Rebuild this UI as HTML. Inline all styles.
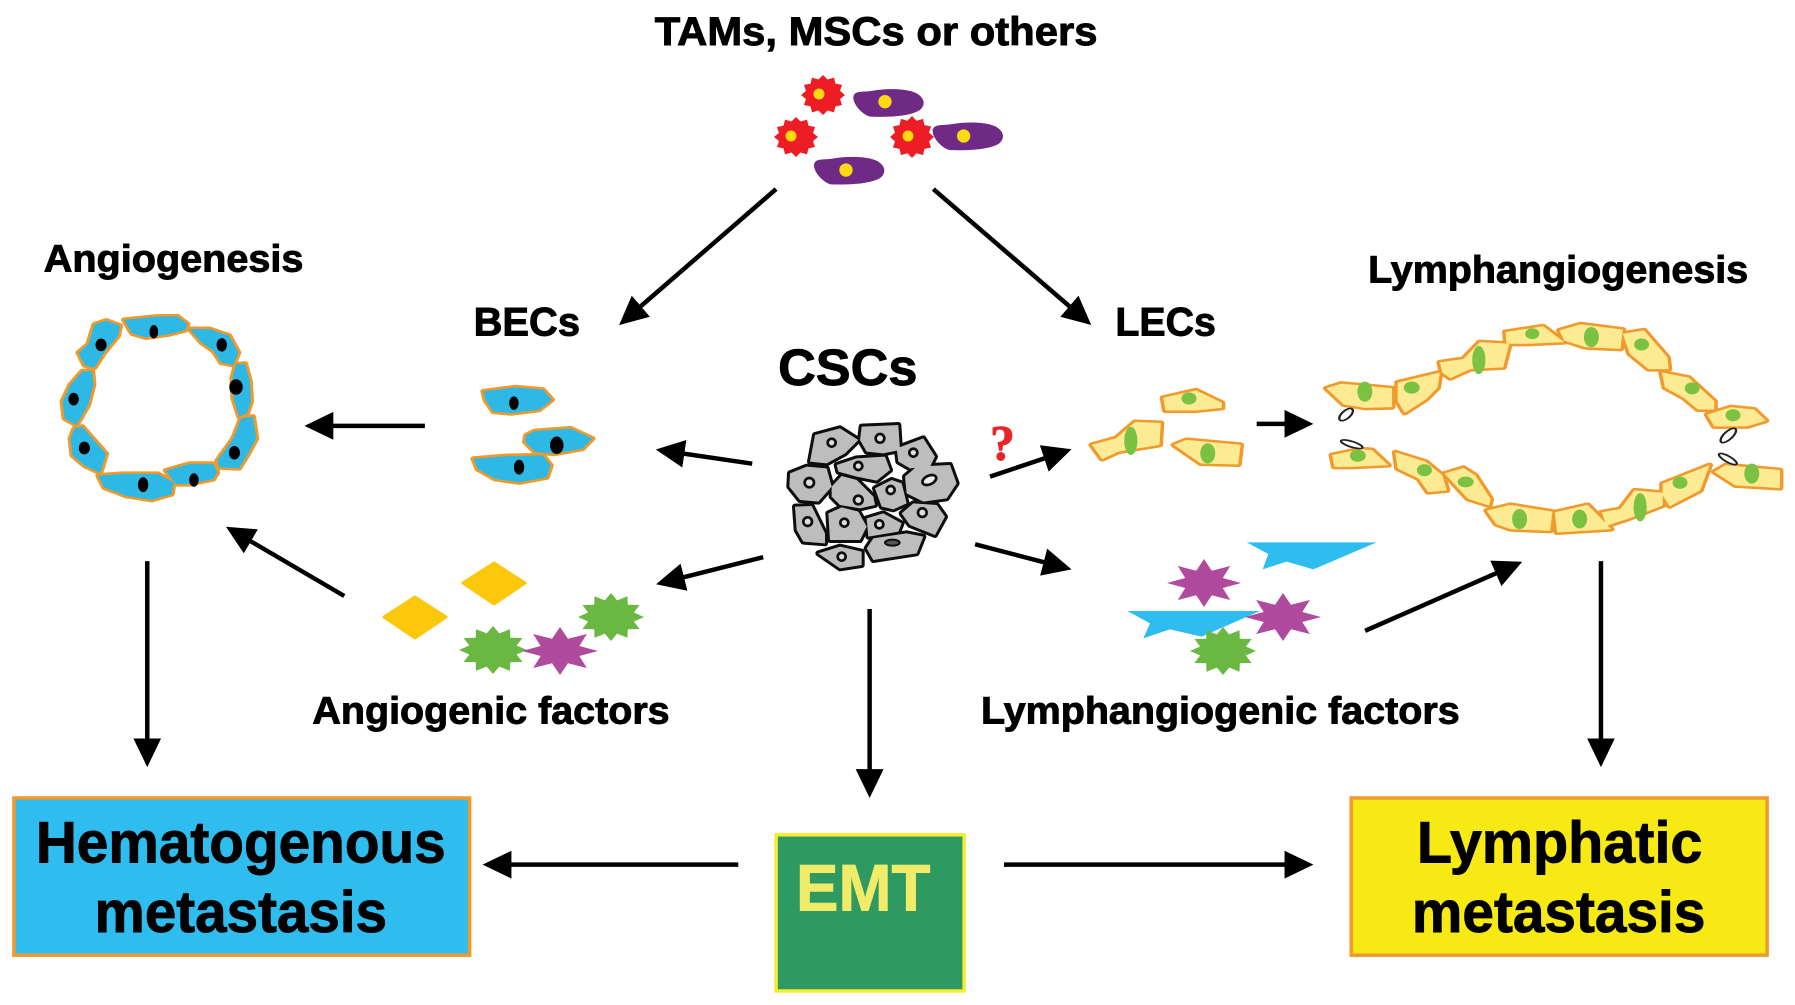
<!DOCTYPE html>
<html><head><meta charset="utf-8"><style>
html,body{margin:0;padding:0;background:#fff}
svg{display:block}
text{font-family:"Liberation Sans",sans-serif;font-weight:700;fill:#000;stroke:#000;stroke-width:.9}
.a{stroke:#000;stroke-width:4.5;fill:none;marker-end:url(#ah)}
.j{stroke-linejoin:round}
.be ellipse{fill:#000}
.ly ellipse{fill:#7cc242}
.ly ellipse.o{fill:#fff;stroke:#222;stroke-width:5}
.cs circle{fill:#ddd;stroke:#111;stroke-width:8}
</style></head><body>
<svg width="1795" height="1005" viewBox="0 0 1795 1005" xmlns="http://www.w3.org/2000/svg">
<defs>
<filter id="soft" x="-5%" y="-5%" width="110%" height="110%"><feGaussianBlur stdDeviation=".6"/></filter>
<marker id="ah" markerUnits="userSpaceOnUse" markerWidth="32" markerHeight="30" refX="18" refY="14" orient="auto"><path d="M0,0 L29,14 L0,28 Z" fill="#000"/></marker>
<polygon id="s12" points="1,0 .773,.207 .866,.5 .566,.566 .5,.866 .207,.773 0,1 -.207,.773 -.5,.866 -.566,.566 -.866,.5 -.773,.207 -1,0 -.773,-.207 -.866,-.5 -.566,-.566 -.5,-.866 -.207,-.773 0,-1 .207,-.773 .5,-.866 .566,-.566 .866,-.5 .773,-.207"/>
<polygon id="g12" points="1,0 .695,.186 .866,.5 .509,.509 .5,.866 .186,.695 0,1 -.186,.695 -.5,.866 -.509,.509 -.866,.5 -.695,.186 -1,0 -.695,-.186 -.866,-.5 -.509,-.509 -.5,-.866 -.186,-.695 0,-1 .186,-.695 .5,-.866 .509,-.509 .866,-.5 .695,-.186"/>
<polygon id="s8" points="1,0 .508,.21 .707,.707 .21,.508 0,1 -.21,.508 -.707,.707 -.508,.21 -1,0 -.508,-.21 -.707,-.707 -.21,-.508 0,-1 .21,-.508 .707,-.707 .508,-.21"/>
<path id="blob" d="M280,110 C285,90 310,98 340,92 C380,85 440,85 470,100 C495,115 497,135 480,150 C450,170 380,172 330,170 C310,165 278,135 280,110Z"/>
<g id="bc">
<polygon points="315,298 340,295 400,288 450,288 475,310 470,328 430,340 370,350 335,338"/>
<polygon points="240,312 270,300 305,315 300,345 265,395 240,440 215,432 200,395 225,370"/>
<polygon points="480,325 530,325 580,345 603,395 590,432 560,425 540,390 510,365"/>
<polygon points="597,430 620,428 632,480 635,540 625,575 605,585 590,530 588,470"/>
<polygon points="210,450 235,450 238,490 225,550 195,610 165,590 160,540 180,490"/>
<polygon points="610,590 640,585 648,650 625,700 605,738 555,735 550,715 590,650"/>
<polygon points="190,620 210,615 270,695 255,752 215,730 185,700 180,650"/>
<polygon points="250,760 310,755 400,755 440,780 435,815 385,832 320,820 265,795"/>
<polygon points="420,745 480,725 540,725 550,750 540,770 480,785 445,785"/>
<polygon points="1220,510 1300,498 1370,505 1393,535 1360,565 1290,575 1245,570 1225,535"/>
<polygon points="1195,710 1280,702 1370,700 1390,730 1380,765 1310,780 1250,770 1205,740"/>
<polygon points="1328,640 1350,628 1440,620 1495,650 1470,680 1400,695 1350,690 1325,660"/>
</g>
<g id="cc">
<polygon points="150,155 165,75 240,55 295,90 255,130 200,160"/>
<polygon points="305,50 415,45 420,120 370,130 320,125 300,90"/>
<polygon points="410,115 490,85 525,140 510,170 450,175 415,155"/>
<polygon points="230,165 290,145 375,140 390,180 350,212 290,200 235,185"/>
<polygon points="90,190 140,170 200,175 215,230 175,275 120,270 88,230"/>
<polygon points="215,230 245,198 290,210 340,260 345,285 300,295 240,285 215,260"/>
<polygon points="345,235 395,210 425,220 440,280 400,298 365,290"/>
<polygon points="435,200 470,170 570,165 590,220 560,265 490,275 440,250"/>
<polygon points="425,310 460,280 530,285 555,320 525,375 450,345"/>
<polygon points="105,290 155,288 195,370 195,400 130,395 110,360"/>
<polygon points="205,310 245,292 295,305 320,350 300,390 210,390"/>
<polygon points="320,325 370,310 425,340 415,365 325,380"/>
<polygon points="320,415 340,385 440,370 490,380 470,430 340,450"/>
<polygon points="175,430 240,410 305,425 305,465 240,475"/>
</g>
<g id="lc">
<polygon points="220,290 290,268 345,305 345,320 290,328 225,328"/>
<polygon points="68,430 120,410 160,362 215,365 212,430 125,450 90,472"/>
<polygon points="243,430 270,415 385,430 380,488 300,485"/>
<polygon points="568,262 600,248 708,262 708,318 650,320 605,310"/>
<polygon points="720,245 810,215 805,260 780,295 735,335 720,300"/>
<polygon points="810,185 860,175 895,125 958,130 945,200 875,205 832,232 815,215"/>
<polygon points="950,95 1030,78 1075,125 1000,130 952,130"/>
<polygon points="1065,90 1110,72 1200,88 1195,145 1120,140 1075,120"/>
<polygon points="1200,100 1245,90 1295,170 1298,205 1255,205 1215,160"/>
<polygon points="1283,215 1340,230 1395,300 1395,325 1360,325 1330,290 1290,260"/>
<polygon points="1380,340 1430,318 1480,325 1505,358 1465,375 1395,375"/>
<polygon points="580,460 640,443 665,445 700,490 620,495 585,495"/>
<polygon points="715,452 780,480 815,520 825,565 785,570 765,530 720,500"/>
<polygon points="820,515 860,498 885,520 918,590 915,610 870,590"/>
<polygon points="910,625 960,608 1050,628 1045,685 960,680 930,665"/>
<polygon points="1055,630 1125,608 1155,650 1175,680 1060,690"/>
<polygon points="1155,630 1195,620 1225,565 1285,572 1285,610 1210,650 1165,670"/>
<polygon points="1285,545 1385,490 1365,565 1300,612 1285,580"/>
<polygon points="1395,510 1420,490 1535,505 1535,558 1440,550"/>
</g>
</defs>

<g transform="scale(.995)">
<!-- labels -->
<text x="658" y="45" font-size="40" textLength="445" lengthAdjust="spacingAndGlyphs">TAMs, MSCs or others</text>
<text x="44" y="273" font-size="38" textLength="261" lengthAdjust="spacingAndGlyphs">Angiogenesis</text>
<text x="476" y="337" font-size="40" textLength="107" lengthAdjust="spacingAndGlyphs">BECs</text>
<text x="1121" y="337" font-size="40" textLength="101" lengthAdjust="spacingAndGlyphs">LECs</text>
<text x="782" y="387" font-size="51" textLength="140" lengthAdjust="spacingAndGlyphs">CSCs</text>
<text x="1375" y="284" font-size="38" textLength="382" lengthAdjust="spacingAndGlyphs">Lymphangiogenesis</text>
<text x="314" y="727" font-size="38" textLength="359" lengthAdjust="spacingAndGlyphs">Angiogenic factors</text>
<text x="986" y="727" font-size="38" textLength="481" lengthAdjust="spacingAndGlyphs">Lymphangiogenic factors</text>
<text x="995" y="462" font-size="50" textLength="25" lengthAdjust="spacingAndGlyphs" style="font-family:'Liberation Serif',serif;fill:#e8262a;stroke:#e8262a">?</text>

<!-- boxes -->
<rect x="14" y="802" width="458" height="158" fill="#2fbdf0" stroke="#f09a2e" stroke-width="3.5"/>
<rect x="1358" y="802" width="418" height="158" fill="#f7e914" stroke="#f09a2e" stroke-width="3.5"/>
<rect x="780" y="839" width="189" height="157" fill="#2e9960" stroke="#f5ee30" stroke-width="3.5"/>
<text x="36" y="867" font-size="59" textLength="412" lengthAdjust="spacingAndGlyphs">Hematogenous</text>
<text x="95" y="936.5" font-size="59" textLength="294" lengthAdjust="spacingAndGlyphs">metastasis</text>
<text x="1424" y="867" font-size="59" textLength="287" lengthAdjust="spacingAndGlyphs">Lymphatic</text>
<text x="1419" y="936.5" font-size="59" textLength="295" lengthAdjust="spacingAndGlyphs">metastasis</text>
<text x="800" y="915" font-size="66" textLength="135" lengthAdjust="spacingAndGlyphs" style="fill:#f0ec6a;stroke:#f0ec6a">EMT</text>

<!-- arrows -->
<line class="a" x1="780" y1="190" x2="630.5" y2="319.5"/>
<line class="a" x1="938" y1="190" x2="1088.4" y2="319.5"/>
<line class="a" x1="427" y1="428" x2="317" y2="428"/>
<line class="a" x1="756" y1="466" x2="670" y2="453.4"/>
<line class="a" x1="767" y1="560" x2="670" y2="584.5"/>
<line class="a" x1="995" y1="479" x2="1066.5" y2="455"/>
<line class="a" x1="980" y1="547" x2="1066.3" y2="569.5"/>
<line class="a" x1="346" y1="599" x2="236.6" y2="535"/>
<line class="a" x1="148" y1="564" x2="148" y2="760"/>
<line class="a" x1="874" y1="612" x2="874" y2="791"/>
<line class="a" x1="1609" y1="564" x2="1609" y2="760"/>
<line class="a" x1="1263" y1="426" x2="1309" y2="426"/>
<line class="a" x1="1372" y1="634" x2="1519.8" y2="569"/>
<line class="a" x1="742" y1="869" x2="496" y2="869"/>
<line class="a" x1="1009" y1="869" x2="1309" y2="869"/>
</g>

<!-- TAMs -->
<g fill="#ee1c25">
<use href="#s12" transform="translate(823,95) scale(22,20)"/>
<use href="#s12" transform="translate(796,137) scale(22,20)"/>
<use href="#s12" transform="translate(912,137) scale(22,21)"/>
</g>
<g fill="#fdd90f">
<ellipse cx="819" cy="94" rx="5.5" ry="5.5"/><ellipse cx="791" cy="136" rx="5.5" ry="5.5"/><ellipse cx="908" cy="136" rx="5.5" ry="5.5"/>
</g>
<g transform="translate(760,60) scale(.3333)">
<g fill="#6e2a84">
<use href="#blob"/><use href="#blob" transform="translate(238,100)"/><use href="#blob" transform="translate(-118,203)"/>
</g>
<g fill="#fdd90f"><circle cx="375" cy="125" r="20"/><circle cx="611" cy="228" r="20"/><circle cx="258" cy="330" r="20"/></g>
</g>

<!-- blood vessel + BECs -->
<g class="be j" transform="translate(-1,219.5) scale(.397,.337)" filter="url(#soft)">
<use href="#bc" fill="#ef9a2c" stroke="#ef9a2c" stroke-width="15"/>
<use href="#bc" fill="#2fb8e6"/>
<ellipse cx="390" cy="333" rx="11" ry="20"/><ellipse cx="257" cy="372" rx="14" ry="19"/><ellipse cx="561" cy="372" rx="13" ry="20"/>
<ellipse cx="597" cy="497" rx="17" ry="23"/><ellipse cx="188" cy="533" rx="13" ry="19"/><ellipse cx="593" cy="692" rx="14" ry="20"/>
<ellipse cx="215" cy="678" rx="14" ry="19"/><ellipse cx="363" cy="787" rx="13" ry="22"/><ellipse cx="491" cy="773" rx="12" ry="20"/>
<ellipse cx="1297" cy="545" rx="12" ry="20"/><ellipse cx="1405" cy="670" rx="17" ry="26"/><ellipse cx="1310" cy="735" rx="13" ry="22"/>
</g>

<!-- CSCs -->
<g class="cs j" transform="translate(760,410) scale(.3333)" filter="url(#soft)">
<use href="#cc" fill="#111" stroke="#111" stroke-width="18"/>
<use href="#cc" fill="#bdbdbd"/>
<circle cx="215" cy="98" r="12"/><circle cx="360" cy="85" r="13"/><circle cx="460" cy="128" r="12"/><circle cx="295" cy="168" r="12"/>
<circle cx="148" cy="218" r="14"/><circle cx="295" cy="270" r="13"/><circle cx="392" cy="240" r="12"/>
<ellipse cx="508" cy="210" rx="22" ry="13" fill="#eee" stroke="#111" stroke-width="8" transform="rotate(-25 508 210)"/>
<circle cx="487" cy="308" r="13"/><circle cx="143" cy="335" r="13"/><circle cx="253" cy="338" r="12"/><circle cx="358" cy="343" r="12"/>
<ellipse cx="397" cy="398" rx="22" ry="9" fill="#555" stroke="#111" stroke-width="6"/><circle cx="245" cy="440" r="12"/>
</g>

<!-- Lymphatic cells -->
<g class="ly j" transform="translate(1060,300) scale(.469,.337)" filter="url(#soft)">
<use href="#lc" fill="#f09a2e" stroke="#f09a2e" stroke-width="15"/>
<use href="#lc" fill="#fdeb94"/>
<ellipse cx="275" cy="292" rx="16" ry="18"/><ellipse cx="151" cy="418" rx="14" ry="42"/><ellipse cx="315" cy="455" rx="16" ry="30"/>
<ellipse cx="650" cy="272" rx="16" ry="30"/><ellipse cx="750" cy="260" rx="17" ry="18"/><ellipse cx="893" cy="178" rx="14" ry="42"/>
<ellipse cx="1007" cy="100" rx="15" ry="16"/><ellipse cx="1133" cy="110" rx="16" ry="30"/><ellipse cx="1240" cy="132" rx="16" ry="18"/>
<ellipse cx="1348" cy="262" rx="16" ry="18"/><ellipse cx="1435" cy="342" rx="16" ry="18"/><ellipse cx="635" cy="462" rx="17" ry="18"/>
<ellipse cx="777" cy="505" rx="16" ry="18"/><ellipse cx="865" cy="540" rx="17" ry="16"/><ellipse cx="980" cy="650" rx="16" ry="30"/>
<ellipse cx="1108" cy="650" rx="16" ry="28"/><ellipse cx="1237" cy="615" rx="14" ry="42"/><ellipse cx="1322" cy="542" rx="16" ry="18"/>
<ellipse cx="1475" cy="515" rx="16" ry="30"/>
<ellipse class="o" cx="610" cy="340" rx="10" ry="21" transform="rotate(35 610 340)"/>
<ellipse class="o" cx="622" cy="428" rx="8" ry="25" transform="rotate(-65 622 428)"/>
<ellipse class="o" cx="1425" cy="402" rx="10" ry="25" transform="rotate(35 1425 402)"/>
<ellipse class="o" cx="1424" cy="472" rx="8" ry="24" transform="rotate(-50 1424 472)"/>
</g>

<!-- Angiogenic factors -->
<g fill="#fdc70c" stroke="#fdc70c" stroke-width="3" stroke-linejoin="round">
<polygon points="384,617 415,597 446,617 415,638"/>
<polygon points="463,583 494,563 525,583 494,604"/>
</g>
<g fill="#6ab842">
<use href="#g12" transform="translate(493,650) scale(34,24)"/>
<use href="#g12" transform="translate(611,617) scale(33,24)"/>
</g>
<use href="#s8" fill="#b04a9e" transform="translate(560,651) scale(38,24)"/>

<!-- Lymphangiogenic factors -->
<g transform="translate(1110,530) scale(.3333)" fill="#2fbdf0">
<polygon points="410,37 800,37 610,118 530,95 458,118 475,72"/>
<polygon points="52,243 450,243 275,320 180,298 100,325 120,280"/>
</g>
<use href="#g12" fill="#6ab842" transform="translate(1223,651) scale(33,24)"/>
<g fill="#b04a9e">
<use href="#s8" transform="translate(1204,583) scale(37,24)"/>
<use href="#s8" transform="translate(1283,617) scale(38,24)"/>
</g>
</svg>
</body></html>
